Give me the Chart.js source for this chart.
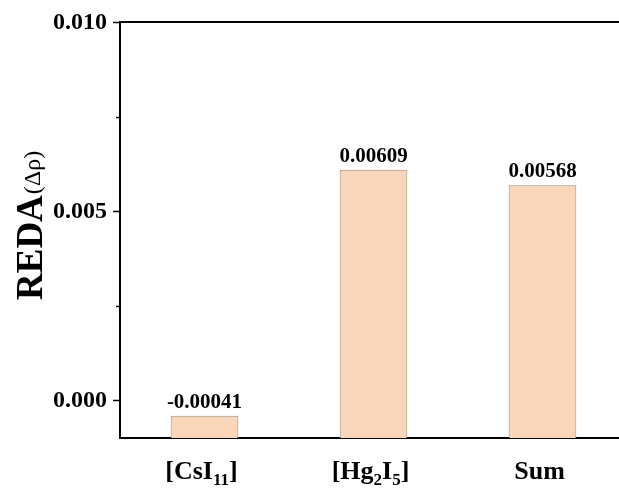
<!DOCTYPE html>
<html>
<head>
<meta charset="utf-8">
<script src="https://cdn.jsdelivr.net/npm/chart.js@4.4.1/dist/chart.umd.min.js"></script>
<style>
html,body{margin:0;padding:0;overflow:hidden;background:#fff;width:619px;height:492px;}
#wrap{position:absolute;left:0;top:0;width:640px;height:492px;}
</style>
</head>
<body>
<div id="wrap"><canvas id="c" width="640" height="492"></canvas></div>
<script>
// ---- data ----
const categories = ['[CsI_11]', '[Hg_2I_5]', 'Sum'];
const values = [-0.00041, 0.00609, 0.00568];
const valueLabels = ['-0.00041', '0.00609', '0.00568'];
const yMajorTicks = [0.000, 0.005, 0.010];
const yTickLabels = ['0.000', '0.005', '0.010'];
const yMinorTicks = [0.0025, 0.0075];
const yMin = -0.001, yMax = 0.010;
const yTitleMain = 'REDA';
const yTitleSym = '(Δρ)';

const SERIF = '"Liberation Serif", "Times New Roman", serif';

function drawRich(ctx, text, cx, baseline, size) {
  // parse "_digits" as subscript
  const parts = [];
  const re = /_(\d+)|([^_]+)/g;
  let m;
  while ((m = re.exec(text)) !== null) {
    if (m[1]) parts.push({t: m[1], sub: true});
    else parts.push({t: m[2], sub: false});
  }
  const subSize = Math.round(size * 0.65);
  let total = 0;
  parts.forEach(p => {
    ctx.font = 'bold ' + (p.sub ? subSize : size) + 'px ' + SERIF;
    p.w = ctx.measureText(p.t).width;
    total += p.w;
  });
  let x = cx - total / 2;
  ctx.textAlign = 'left';
  ctx.textBaseline = 'alphabetic';
  parts.forEach(p => {
    ctx.font = 'bold ' + (p.sub ? subSize : size) + 'px ' + SERIF;
    ctx.fillText(p.t, x, baseline + (p.sub ? size * 0.22 : 0));
    x += p.w;
  });
}

const decor = {
  id: 'decor',
  afterDraw(chart) {
    const ctx = chart.ctx;
    const ca = chart.chartArea;
    const y = chart.scales.y, x = chart.scales.x;
    ctx.save();
    ctx.strokeStyle = '#000';
    ctx.fillStyle = '#000';
    // top frame line
    ctx.lineWidth = 2;
    ctx.beginPath();
    ctx.moveTo(ca.left - 1, ca.top);
    ctx.lineTo(ca.right, ca.top);
    ctx.stroke();
    // major ticks
    ctx.lineWidth = 1.5;
    yMajorTicks.forEach(v => {
      const py = Math.round(y.getPixelForValue(v)) + 0.5;
      ctx.beginPath();
      ctx.moveTo(ca.left - 7, py);
      ctx.lineTo(ca.left, py);
      ctx.stroke();
    });
    yMinorTicks.forEach(v => {
      const py = Math.round(y.getPixelForValue(v)) + 0.5;
      ctx.beginPath();
      ctx.moveTo(ca.left - 4, py);
      ctx.lineTo(ca.left, py);
      ctx.stroke();
    });
    // tick labels
    ctx.font = 'bold 24px ' + SERIF;
    ctx.textAlign = 'right';
    ctx.textBaseline = 'middle';
    yMajorTicks.forEach((v, i) => {
      ctx.fillText(yTickLabels[i], ca.left - 13, y.getPixelForValue(v) + 1);
    });
    // value labels
    ctx.font = 'bold 21px ' + SERIF;
    ctx.textAlign = 'center';
    ctx.textBaseline = 'alphabetic';
    const meta = chart.getDatasetMeta(0);
    meta.data.forEach((bar, i) => {
      ctx.fillText(valueLabels[i], bar.x, y.getPixelForValue(values[i]) - 8);
    });
    // category labels
    categories.forEach((c, i) => {
      drawRich(ctx, c, x.getPixelForValue(i) - 3, 479, 26);
    });
    // y title (reads bottom to top, starting at y=300)
    ctx.translate(42, 300);
    ctx.rotate(-Math.PI / 2);
    ctx.textAlign = 'left';
    ctx.textBaseline = 'alphabetic';
    ctx.font = 'bold 37px ' + SERIF;
    const w1 = ctx.measureText(yTitleMain).width;
    ctx.fillText(yTitleMain, 0, 0);
    ctx.font = '24px ' + SERIF;
    ctx.fillText(yTitleSym, w1 + 1, -2);
    ctx.restore();
  }
};

new Chart(document.getElementById('c'), {
  type: 'bar',
  data: {
    labels: categories,
    datasets: [{
      data: values,
      base: yMin,
      backgroundColor: '#F9D6B9',
      borderColor: '#9E8A7A',
      borderWidth: 1,
      barPercentage: 0.4,
      categoryPercentage: 1.0
    }]
  },
  options: {
    responsive: false,
    animation: false,
    layout: { padding: { top: 22, right: 13, left: 0, bottom: 0 } },
    plugins: { legend: { display: false }, tooltip: { enabled: false } },
    scales: {
      x: {
        grid: { display: false },
        border: { display: true, color: '#000', width: 2 },
        ticks: { display: false },
        afterFit(s) { s.height = 54; }
      },
      y: {
        min: yMin, max: yMax,
        grid: { display: false },
        border: { display: true, color: '#000', width: 2 },
        ticks: { display: false },
        afterFit(s) { s.width = 120; }
      }
    }
  },
  plugins: [decor]
});
</script>
</body>
</html>
